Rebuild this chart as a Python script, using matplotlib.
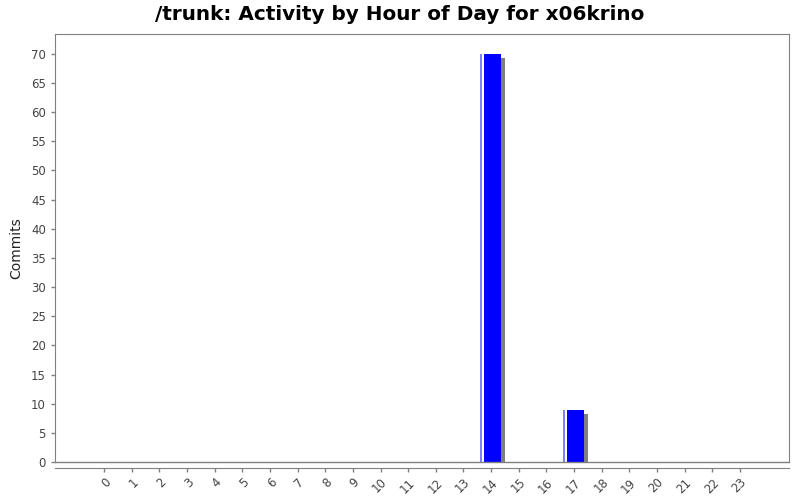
import matplotlib
matplotlib.use("Agg")
import matplotlib.pyplot as plt
from matplotlib.patches import Rectangle

hours = list(range(24))
commits = [0]*24
commits[14] = 70
commits[17] = 9
yticks = list(range(0, 75, 5))

fig = plt.figure(figsize=(8, 5), dpi=100)
ax = fig.add_axes([55/800, 38/500, 734/800, 428/500])

px_x = 1/27.52
ylim_top = 73.4
px_y = ylim_top/428
w = 0.78
for h, v in zip(hours, commits):
    if v <= 0:
        continue
    left = h - w/2 - 0.02
    # shadow
    ax.add_patch(Rectangle((left + 4*px_x, 0), w, v - 4*px_y, facecolor="#808080", edgecolor="none", zorder=1))
    # bar
    ax.add_patch(Rectangle((left, 0), w, v, facecolor="#0000FF", edgecolor="none", zorder=2))
    # highlight
    ax.add_patch(Rectangle((left + 0.5*px_x, 0), 1.5*px_x, v, facecolor="#8080FF", edgecolor="none", zorder=3))
    ax.add_patch(Rectangle((left + 2*px_x, 0), 2*px_x, v, facecolor="#FFFFFF", edgecolor="none", zorder=3))

ax.set_xlim(-1.78, 24.78)
ax.set_ylim(0, ylim_top)
ax.set_xticks(hours)
ax.set_xticklabels([str(h) for h in hours])
ax.set_yticks(yticks)
ax.set_yticklabels([str(t) for t in yticks])

gray = "#808080"
for s in ax.spines.values():
    s.set_color(gray)
ax.spines["bottom"].set_position(("outward", 4))
ax.axhline(0, color=gray, lw=1, zorder=4, clip_on=False)
ax.tick_params(axis="both", colors=gray, labelcolor="#444444", labelsize=8.5, length=3, width=1)
ax.tick_params(axis="x", pad=3)
for lab in ax.get_xticklabels():
    lab.set_rotation(45)
    lab.set_ha("right")
    lab.set_rotation_mode("anchor")

ax.set_ylabel("Commits", fontsize=10, color="#222222", labelpad=6)
fig.suptitle("/trunk: Activity by Hour of Day for x06krino", fontsize=14.4, fontweight="bold", y=0.99, va="top")

fig.savefig("out.png", dpi=100)
